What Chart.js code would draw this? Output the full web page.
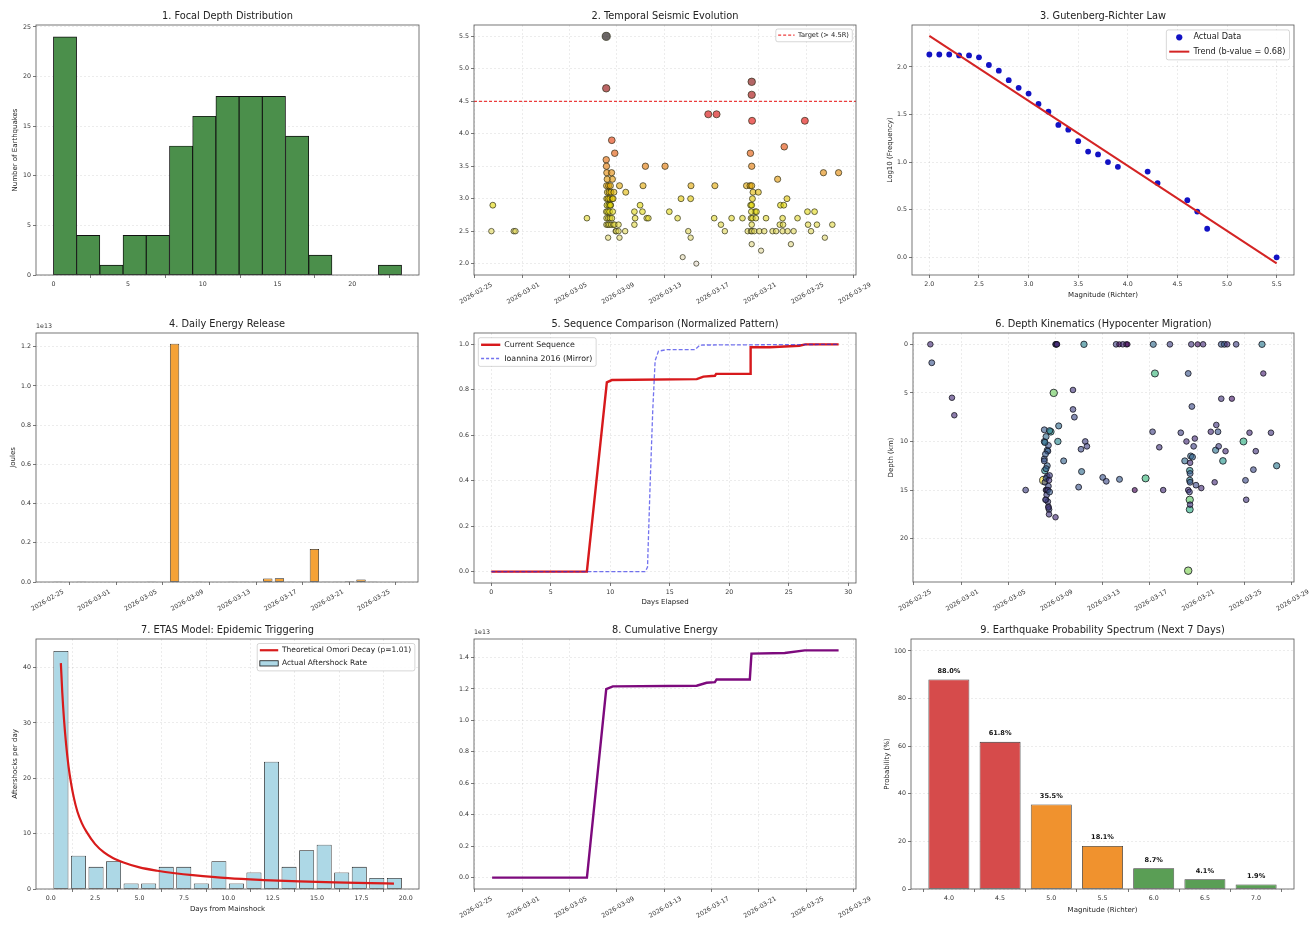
<!DOCTYPE html>
<html><head><meta charset="utf-8">
<script src="https://cdn.jsdelivr.net/npm/chart.js@4.4.1/dist/chart.umd.min.js"></script>
<style>
html,body{margin:0;padding:0;background:#fff;width:1312px;height:926px;overflow:hidden;position:relative}
canvas{position:absolute}
</style>
</head><body>
<script>
// ---------------- DATA ----------------
// Panel 1: focal depth histogram
const depthBinEdges = [0,1.553,3.107,4.66,6.213,7.767,9.32,10.873,12.427,13.98,15.533,17.087,18.64,20.193,21.747,23.3];
const depthCounts = [24,4,1,4,4,13,16,18,18,18,14,2,0,0,1];
const p1XTicks = [0,5,10,15,20];
const p1YTicks = [0,5,10,15,20,25];

// Date axis (days after 2026-02-25)
const dateTickDays = [0,4,8,12,16,20,24,28,32];
const dateTickLabels = ['2026-02-25','2026-03-01','2026-03-05','2026-03-09','2026-03-13','2026-03-17','2026-03-21','2026-03-25','2026-03-29'];

// Panel 2: [day, magnitude]
const p2Events = [
[1.40,2.5],[1.52,2.9],[3.29,2.5],[3.43,2.5],[9.47,2.7],
[11.10,5.5],[11.10,4.7],[11.57,3.9],[11.82,3.7],[11.10,3.6],[11.12,3.5],[11.15,3.4],[11.55,3.4],[11.62,3.3],[11.18,3.3],[11.13,3.2],[11.30,3.2],[11.45,3.2],[11.20,3.1],[11.35,3.1],[11.50,3.1],[11.75,3.1],[11.14,3.0],[11.25,3.0],[11.40,3.0],[11.60,3.0],[11.16,2.9],[11.32,2.9],[11.48,2.9],[11.11,2.8],[11.22,2.8],[11.38,2.8],[11.65,2.8],[11.13,2.7],[11.28,2.7],[11.42,2.7],[11.58,2.7],[11.12,2.6],[11.24,2.6],[11.36,2.6],[11.52,2.6],[11.70,2.6],[11.26,2.4],[11.68,3.0],[11.44,2.9],[11.80,2.6],[11.90,2.5],[11.95,2.5],
[12.14,2.6],[12.14,2.5],[12.22,3.2],[12.22,2.4],[12.70,2.5],[12.75,3.1],
[13.48,2.6],[13.54,2.7],[13.48,2.8],[13.96,2.9],
[14.16,2.8],[14.21,3.2],[14.41,3.5],[14.52,2.7],[14.66,2.7],
[16.07,3.5],[16.43,2.8],[17.13,2.7],[17.56,2.1],[17.42,3.0],[18.03,2.5],[18.23,2.4],[18.23,3.0],[18.26,3.2],[18.71,2.0],
[19.72,4.3],[20.42,4.3],[20.28,3.2],[20.22,2.7],[20.79,2.6],[21.12,2.5],[21.69,2.7],[22.61,2.7],[22.95,3.2],[23.05,2.5],
[23.39,4.8],[23.39,4.6],[23.42,4.2],[23.28,3.7],[23.39,3.5],[23.25,3.2],[23.39,3.2],[23.50,3.1],[23.45,3.0],[23.30,2.9],[23.39,2.9],[23.67,2.8],[23.36,2.8],[23.33,2.7],[23.45,2.7],[23.39,2.6],[23.33,2.5],[23.42,2.5],[23.61,2.5],[23.39,2.3],[23.95,3.1],[23.79,2.8],[23.74,2.7],
[24.03,2.5],[24.18,2.2],[24.45,2.5],[24.60,2.7],[25.15,2.5],[25.45,2.5],[25.58,3.3],[25.76,2.6],[25.82,2.9],[26.00,2.7],[26.04,2.6],[26.10,2.9],[26.14,3.8],[26.37,3.0],[26.00,2.5],[26.42,2.5],[26.70,2.3],[26.93,2.5],[27.26,2.7],[27.88,4.2],[28.10,2.8],[28.15,2.6],[28.40,2.5],[28.70,2.8],[28.90,2.6],[29.45,3.4],[29.57,2.4],[30.20,2.6],[30.73,3.4]
];
const targetMag = 4.5;
const p2YTicks = [2.0,2.5,3.0,3.5,4.0,4.5,5.0,5.5];

// Panel 3: Gutenberg-Richter
const grMag  = [2.0,2.1,2.2,2.3,2.4,2.5,2.6,2.7,2.8,2.9,3.0,3.1,3.2,3.3,3.4,3.5,3.6,3.7,3.8,3.9,4.2,4.3,4.6,4.7,4.8,5.5];
const grLogN = [2.13,2.13,2.13,2.12,2.12,2.10,2.02,1.96,1.86,1.78,1.72,1.61,1.53,1.39,1.34,1.22,1.11,1.08,1.00,0.95,0.90,0.78,0.60,0.48,0.30,0.00];
const trendMag  = [2.0,5.5];
const trendLogN = [2.325,-0.063];
const p3XTicks = [2.0,2.5,3.0,3.5,4.0,4.5,5.0,5.5];
const p3YTicks = [0.0,0.5,1.0,1.5,2.0];

// Panel 4: daily energy (x 1e13 J), days after 2026-02-25
const energyDays  = [1,2,3,4,5,6,7,8,9,10,11,12,13,14,15,16,17,18,19,20,21,22,23,24,25,26,27,28,29,30];
const dailyEnergy = [0.00002,0,0.00001,0,0,0,0,0,0.00002,0,1.215,0.0004,0.0002,0.0012,0,0.0005,0.0002,0.0003,0.018,0.019,0.0001,0.0003,0.168,0.0003,0.0005,0.0035,0.013,0.0005,0.001,0.0008];
const p4YTicks = [0.0,0.2,0.4,0.6,0.8,1.0,1.2];

// Panel 5: normalized sequences
const curDays = [0,8.03,9.71,10.13,17.27,17.83,18.8,18.9,21.75,21.8,23.4,25.9,26.4,29.2];
const curNorm = [0,0,0.833,0.843,0.847,0.858,0.862,0.87,0.87,0.987,0.987,0.994,1.0,1.0];
const ioaDays = [0,12.95,13.13,13.35,13.57,13.77,14.05,14.75,17.13,17.55,29.2];
const ioaNorm = [0,0,0.02,0.385,0.71,0.928,0.97,0.977,0.977,0.997,1.0];
const p5XTicks = [0,5,10,15,20,25,30];
const p5YTicks = [0.0,0.2,0.4,0.6,0.8,1.0];

// Panel 6: [day, depth km, magnitude]
const p6Events = [
[1.40,0.0,2.5],[1.52,1.9,2.9],[3.23,5.5,2.5],[3.43,7.3,2.5],[9.47,15.0,2.7],
[11.00,14.0,5.5],
[11.05,8.8,3.0],[11.05,10.0,3.1],[11.05,11.8,3.0],[11.05,12.0,2.9],[11.10,13.0,3.7],[11.10,14.2,2.8],[11.20,15.0,2.8],[11.20,16.0,2.6],[11.30,10.9,3.2],[11.35,11.0,3.0],[11.30,13.6,2.7],[11.25,15.0,2.6],[11.35,16.2,2.7],[11.40,16.7,2.6],[11.45,17.0,2.8],[11.45,17.5,2.6],[11.60,9.0,3.9],[11.30,12.5,3.1],[11.15,11.3,3.0],[11.20,9.5,3.2],[11.40,10.4,2.9],[11.20,13.8,2.9],[11.40,14.6,2.8],[11.25,15.5,2.7],[11.40,16.8,2.6],[11.20,12.8,3.1],[11.50,13.5,2.7],[11.35,15.0,2.6],[11.15,16.0,2.7],[11.50,8.9,3.4],[11.10,10.1,3.3],[11.45,14.0,2.6],[11.50,15.2,3.0],
[11.85,5.0,4.7],[12.00,17.8,2.5],[12.00,0,2.6],[12.05,0,2.8],[12.10,0,2.4],[12.13,0,2.5],
[12.27,8.4,3.2],[12.20,10.0,3.6],[12.69,12.0,3.1],
[13.48,4.7,2.6],[13.48,6.7,2.7],[13.60,7.5,2.8],[13.96,14.7,2.9],[14.16,10.8,2.8],[14.21,13.1,3.2],[14.41,0,3.5],[14.52,10.0,2.7],[14.66,10.5,2.7],
[16.00,13.7,2.9],[16.30,14.1,2.8],[17.13,0,2.7],[17.40,0,2.1],[17.42,13.9,3.0],[17.70,0,2.5],[18.00,0,2.4],[18.10,0,2.0],[18.71,15.0,2.0],
[19.63,13.8,4.3],[20.22,9.0,2.7],[20.28,0,3.2],[20.42,3.0,4.3],[20.79,10.6,2.6],[21.12,15.0,2.5],[21.69,0,2.7],[22.61,9.1,2.7],
[22.95,12.0,3.2],[23.09,10.0,2.5],[23.24,3.0,2.9],[23.24,15.0,2.5],[23.24,23.3,4.8],[23.37,16.0,4.6],[23.37,17.0,4.2],[23.37,13.0,3.7],[23.37,14.0,3.5],[23.45,11.5,3.2],[23.50,0,2.6],[23.55,6.4,2.8],[23.60,11.6,3.1],[23.70,10.5,2.7],[23.80,9.7,2.5],[23.90,14.5,2.8],[24.04,0,2.2],[24.35,14.8,2.5],[24.50,0,2.5],[23.40,13.3,3.0],[23.40,14.2,2.9],[23.35,15.2,2.7],[23.40,16.5,2.6],[23.40,12.2,2.5],
[25.15,9.0,2.5],[25.48,14.2,2.5],[25.56,10.9,3.3],[25.62,8.3,2.6],[25.76,9.0,2.9],[25.82,10.5,2.7],[26.04,5.6,2.6],[26.04,0,2.9],[26.18,12.0,3.8],[26.30,0,3.0],[26.40,11.0,2.5],[26.54,0,2.5],[26.94,5.6,2.3],[27.30,0,2.7],[27.92,10.0,4.2],[28.09,14.0,2.8],[28.15,16.0,2.6],[28.43,9.1,2.5],[28.76,12.9,2.8],[28.96,11.0,2.6],[29.49,0,3.4],[29.60,3.0,2.4],[30.25,9.1,2.6],[30.73,12.5,3.4]
];
const p6YTicks = [0,5,10,15,20];

// Panel 7: ETAS
const omoriBinCenters = [0.573,1.561,2.55,3.538,4.526,5.515,6.503,7.492,8.48,9.469,10.457,11.445,12.434,13.422,14.411,15.399,16.387,17.376,18.364,19.353];
const aftershockCounts = [43,6,4,5,1,1,4,4,1,5,1,3,23,4,7,8,3,4,2,2];
const omoriX = [0.57,0.65,0.75,0.87,1.0,1.15,1.3,1.5,1.75,2.0,2.5,3.0,3.5,4.1,5.0,6.0,7.0,8.0,10.0,12.0,14.0,16.0,18.0,19.33];
const omoriY = [40.8,35.5,30.5,26.0,22.2,19.0,16.5,14.0,11.9,10.4,8.1,6.6,5.6,4.8,3.9,3.3,2.85,2.5,1.95,1.62,1.38,1.2,1.07,0.98];
const p7XTicks = [0,2.5,5,7.5,10,12.5,15,17.5,20];
const p7YTicks = [0,10,20,30,40];

// Panel 8: cumulative energy (x 1e13 J)
const cumDays   = [1.46,9.47,11.1,11.66,18.74,19.58,20.28,20.42,23.23,23.37,26.18,27.87,30.73];
const cumEnergy = [0,0,1.199,1.216,1.22,1.239,1.243,1.26,1.26,1.424,1.428,1.445,1.445];
const p8YTicks = [0.0,0.2,0.4,0.6,0.8,1.0,1.2,1.4];

// Panel 9: probability spectrum
const probMagLabels = ['4.0','4.5','5.0','5.5','6.0','6.5','7.0'];
const probValues = [88.0,61.8,35.5,18.1,8.7,4.1,1.9];
const p9YTicks = [0,20,40,60,80,100];

// ---------------- STYLE HELPERS ----------------
const FONT = '"DejaVu Sans", "Liberation Sans", sans-serif';
const TITLE_FONT = 9.8, TICK_FONT = 6.3, LABEL_FONT = 7;
Chart.defaults.font.family = FONT;
Chart.defaults.color = '#333';

function hotR(m, alpha) {
  const t = Math.min(1, Math.max(0, (m - 2.0) / 3.5));
  const s = 1 - t;
  const r = Math.min(1, 0.0416 + s * 0.9584 / 0.365);
  const g = Math.min(1, Math.max(0, (s - 0.365) / 0.381));
  const b = Math.min(1, Math.max(0, (s - 0.746) / 0.254));
  return `rgba(${Math.round(r*225)},${Math.round(g*215)},${Math.round(b*200)},${alpha})`;
}
const VIR = [[68,1,84],[72,36,117],[59,82,139],[44,114,142],[33,145,140],[40,174,128],[94,201,98],[170,220,50],[253,231,37]];
function viridis(m, alpha) {
  const t = Math.min(1, Math.max(0, (m - 2.0) / 3.5)) * 8;
  const i = Math.min(7, Math.floor(t)), f = t - i;
  const c = VIR[i].map((v, k) => Math.round(v + (VIR[i+1][k] - v) * f));
  return `rgba(${c[0]},${c[1]},${c[2]},${alpha})`;
}
const rad = m => 1.7 + 0.43 * m;

function axisCfg(o) {
  return {
    type: 'linear', min: o.min, max: o.max, reverse: !!o.reverse, offset: false, bounds: 'data',
    afterBuildTicks: s => { s.ticks = o.ticks.map(v => ({value: v})); },
    afterFit: s => {
      if (o.isX) s.height = o.size; else s.width = o.size;
      s.paddingLeft = 0; s.paddingRight = 0; s.paddingTop = 0; s.paddingBottom = 0;
    },
    ticks: {
      autoSkip: false, minRotation: o.rot || 0, maxRotation: o.rot || 0,
      padding: o.isX ? 3 : 2, labelOffset: o.labelOffset || 0,
      color: '#333', font: {size: TICK_FONT},
      callback: (v, i) => o.labels ? o.labels[i] : Number(v).toFixed(o.dec || 0)
    },
    grid: { display: true, drawOnChartArea: !!o.grid, color: 'rgba(0,0,0,0.13)', lineWidth: 0.6,
            drawTicks: true, tickLength: 3, tickColor: '#555', tickWidth: 0.8 },
    border: { display: false, dash: [2, 2] },
    title: o.title ? {display: true, text: o.title, color: '#222', font: {size: LABEL_FONT}, padding: 0} : {display: false}
  };
}
function dateAxis(min, max, grid) {
  const idx = dateTickDays.map((d, i) => i).filter(i => dateTickDays[i] >= min && dateTickDays[i] <= max);
  return {min, max, ticks: idx.map(i => dateTickDays[i]), labels: idx.map(i => dateTickLabels[i]), rot: 30, labelOffset: 17, grid};
}

function drawLegend(ctx, a, lg) {
  const f = lg.size;
  ctx.font = `${f}px ${FONT}`;
  const tw = Math.max(...lg.items.map(it => ctx.measureText(it.text).width));
  const w = 3.3 * f + tw + 0.5 * f;
  const h = lg.items.length * 1.75 * f + 0.15 * f;
  const x = lg.corner === 'tl' ? a.left + 0.55 * f : a.right - 0.55 * f - w;
  const y = a.top + 0.6 * f;
  ctx.beginPath();
  if (ctx.roundRect) ctx.roundRect(x, y, w, h, 2); else ctx.rect(x, y, w, h);
  ctx.fillStyle = 'rgba(255,255,255,0.85)'; ctx.fill();
  ctx.strokeStyle = 'rgba(0,0,0,0.2)'; ctx.lineWidth = 0.8; ctx.stroke();
  lg.items.forEach((it, i) => {
    const cy = y + 0.9 * f + i * 1.75 * f;
    const hx0 = x + 0.35 * f, hx1 = x + 2.8 * f;
    ctx.save();
    if (it.sym === 'line' || it.sym === 'dash') {
      ctx.strokeStyle = it.color; ctx.lineWidth = it.width || 2;
      ctx.setLineDash(it.sym === 'dash' ? [3, 2] : []);
      ctx.beginPath(); ctx.moveTo(hx0, cy); ctx.lineTo(hx1, cy); ctx.stroke();
    } else if (it.sym === 'dot') {
      ctx.fillStyle = it.color; ctx.beginPath(); ctx.arc((hx0 + hx1) / 2, cy, 0.38 * f, 0, Math.PI * 2); ctx.fill();
    } else if (it.sym === 'box') {
      ctx.fillStyle = it.color; ctx.strokeStyle = '#111'; ctx.lineWidth = 0.8;
      ctx.fillRect(hx0, cy - 0.35 * f, hx1 - hx0, 0.7 * f);
      ctx.strokeRect(hx0, cy - 0.35 * f, hx1 - hx0, 0.7 * f);
    }
    ctx.restore();
    ctx.fillStyle = '#222'; ctx.textAlign = 'left'; ctx.textBaseline = 'middle';
    ctx.fillText(it.text, x + 3.3 * f, cy);
  });
}

const decoPlugin = {
  id: 'deco',
  afterDatasetsDraw(chart, args, o) {
    const ctx = chart.ctx, a = chart.chartArea;
    ctx.save();
    if (o.hline) {
      const y = chart.scales.y.getPixelForValue(o.hline.value);
      ctx.strokeStyle = o.hline.color; ctx.lineWidth = o.hline.width; ctx.setLineDash(o.hline.dash);
      ctx.beginPath(); ctx.moveTo(a.left, y); ctx.lineTo(a.right, y); ctx.stroke(); ctx.setLineDash([]);
    }
    if (o.barLabels) {
      const meta = chart.getDatasetMeta(0);
      ctx.font = `bold ${o.barLabels.size}px ${FONT}`; ctx.fillStyle = '#111';
      ctx.textAlign = 'center'; ctx.textBaseline = 'bottom';
      meta.data.forEach((el, i) => ctx.fillText(o.barLabels.texts[i], el.x, el.y - o.barLabels.gap));
    }
    ctx.restore();
  },
  afterDraw(chart, args, o) {
    const ctx = chart.ctx, a = chart.chartArea;
    ctx.save();
    ctx.strokeStyle = '#555'; ctx.lineWidth = 0.8; ctx.setLineDash([]);
    ctx.strokeRect(a.left, a.top, a.right - a.left, a.bottom - a.top);
    if (o.title) {
      ctx.font = `${TITLE_FONT}px ${FONT}`; ctx.fillStyle = '#222';
      ctx.textAlign = 'center'; ctx.textBaseline = 'middle';
      ctx.fillText(o.title, (a.left + a.right) / 2, a.top - 9);
    }
    if (o.offsetText) {
      ctx.font = `${TICK_FONT}px ${FONT}`; ctx.fillStyle = '#333';
      ctx.textAlign = 'left'; ctx.textBaseline = 'middle';
      ctx.fillText(o.offsetText, a.left, a.top - 6.5);
    }
    if (o.legend) drawLegend(ctx, a, o.legend);
    ctx.restore();
  }
};
Chart.register(decoPlugin);

const RIGHT_PAD = 30;
function makeChart(spec) {
  const {rect, A, H} = spec;
  const c = document.createElement('canvas');
  const left = rect.L - A, top = rect.T - 30;
  const w = Math.round(rect.R - rect.L + A + RIGHT_PAD), h = Math.round(rect.B - rect.T + 30 + H);
  c.width = w; c.height = h;
  c.style.left = left + 'px'; c.style.top = top + 'px';
  c.style.width = w + 'px'; c.style.height = h + 'px';
  document.body.appendChild(c);
  return new Chart(c, {
    type: spec.type,
    data: {datasets: spec.datasets},
    options: {
      responsive: false, animation: false, devicePixelRatio: 1,
      events: [],
      layout: {padding: {top: 30, left: 0, right: RIGHT_PAD, bottom: 0}},
      plugins: {legend: {display: false}, tooltip: {enabled: false}, title: {display: false}, deco: spec.deco},
      scales: {
        x: axisCfg(Object.assign({isX: true, size: H}, spec.x)),
        y: axisCfg(Object.assign({isX: false, size: A}, spec.y))
      }
    }
  });
}

// ---------------- PANELS ----------------
// 1
const binCenters = depthCounts.map((_, i) => (depthBinEdges[i] + depthBinEdges[i + 1]) / 2);
makeChart({
  rect: {L: 36, T: 25, R: 419, B: 275}, A: 25, H: 20, type: 'bar',
  datasets: [{data: depthCounts.map((v, i) => ({x: binCenters[i], y: v})),
    backgroundColor: '#4b8f4b', borderColor: '#111', borderWidth: 0.9, borderSkipped: false,
    barPercentage: 1, categoryPercentage: 1}],
  x: {min: -1.165, max: 24.465, ticks: p1XTicks, dec: 0},
  y: {min: 0, max: 25.2, ticks: p1YTicks, dec: 0, grid: true, title: 'Number of Earthquakes'},
  deco: {title: '1. Focal Depth Distribution'}
});

// 2
makeChart({
  rect: {L: 474, T: 25, R: 856, B: 275}, A: 40, H: 45, type: 'scatter',
  datasets: [{data: p2Events.map(e => ({x: e[0], y: e[1]})),
    pointRadius: p2Events.map(e => rad(e[1])),
    pointBackgroundColor: p2Events.map(e => hotR(e[1], 0.6)),
    pointBorderColor: 'rgba(40,40,20,0.75)', pointBorderWidth: 0.9}],
  x: dateAxis(-0.07, 32.2, true),
  y: {min: 1.825, max: 5.675, ticks: p2YTicks, dec: 1, grid: true},
  deco: {title: '2. Temporal Seismic Evolution',
    hline: {value: targetMag, color: 'rgba(235,40,40,0.9)', width: 1.2, dash: [3, 2]},
    legend: {corner: 'tr', size: 6.7, items: [{sym: 'dash', color: 'rgba(235,40,40,0.9)', width: 1.2, text: 'Target (> 4.5R)'}]}}
});

// 3
makeChart({
  rect: {L: 912, T: 25, R: 1294, B: 275}, A: 26, H: 24, type: 'scatter',
  datasets: [
    {data: trendMag.map((m, i) => ({x: m, y: trendLogN[i]})), showLine: true, borderColor: '#d42424', borderWidth: 2, pointRadius: 0, order: 0},
    {data: grMag.map((m, i) => ({x: m, y: grLogN[i]})), pointRadius: 2.9, pointBackgroundColor: '#1212c4', pointBorderColor: '#1212c4', pointBorderWidth: 0, order: 1}
  ],
  x: {min: 1.825, max: 5.675, ticks: p3XTicks, dec: 1, grid: true, title: 'Magnitude (Richter)'},
  y: {min: -0.186, max: 2.44, ticks: p3YTicks, dec: 1, grid: true, title: 'Log10 (Frequency)'},
  deco: {title: '3. Gutenberg-Richter Law',
    legend: {corner: 'tr', size: 8.2, items: [
      {sym: 'dot', color: '#1212c4', text: 'Actual Data'},
      {sym: 'line', color: '#d42424', width: 2, text: 'Trend (b-value = 0.68)'}]}}
});

// 4
makeChart({
  rect: {L: 36, T: 333, R: 418, B: 582}, A: 27, H: 45, type: 'bar',
  datasets: [{data: energyDays.map((d, i) => ({x: d, y: dailyEnergy[i]})),
    backgroundColor: '#f5a236', borderColor: '#1a1a1a', borderWidth: 0.8, borderSkipped: false,
    barPercentage: 0.8, categoryPercentage: 1}],
  x: dateAxis(-0.89, 31.89, false),
  y: {min: 0, max: 1.27, ticks: p4YTicks, dec: 1, grid: true, title: 'Joules'},
  deco: {title: '4. Daily Energy Release', offsetText: '1e13'}
});

// 5
makeChart({
  rect: {L: 474, T: 333, R: 856, B: 583}, A: 40, H: 23, type: 'scatter',
  datasets: [
    {data: curDays.map((d, i) => ({x: d, y: curNorm[i]})), showLine: true, borderColor: '#d7191c', borderWidth: 2.4, pointRadius: 0, order: 1},
    {data: ioaDays.map((d, i) => ({x: d, y: ioaNorm[i]})), showLine: true, borderColor: 'rgba(40,40,230,0.65)', borderWidth: 1.3, borderDash: [4, 2], pointRadius: 0, order: 0}
  ],
  x: {min: -1.46, max: 30.66, ticks: p5XTicks, dec: 0, grid: true, title: 'Days Elapsed'},
  y: {min: -0.05, max: 1.05, ticks: p5YTicks, dec: 1, grid: true},
  deco: {title: '5. Sequence Comparison (Normalized Pattern)',
    legend: {corner: 'tl', size: 7.85, items: [
      {sym: 'line', color: '#d7191c', width: 2.4, text: 'Current Sequence'},
      {sym: 'dash', color: 'rgba(40,40,230,0.65)', width: 1.3, text: 'Ioannina 2016 (Mirror)'}]}}
});

// 6
makeChart({
  rect: {L: 913, T: 333, R: 1294, B: 582}, A: 26, H: 45, type: 'scatter',
  datasets: [{data: p6Events.map(e => ({x: e[0], y: e[1]})),
    pointRadius: p6Events.map(e => rad(e[2])),
    pointBackgroundColor: p6Events.map(e => viridis(e[2], 0.62)),
    pointBorderColor: 'rgba(20,20,30,0.8)', pointBorderWidth: 1}],
  x: dateAxis(-0.07, 32.2, true),
  y: {min: -1.165, max: 24.465, reverse: true, ticks: p6YTicks, dec: 0, grid: true, title: 'Depth (km)'},
  deco: {title: '6. Depth Kinematics (Hypocenter Migration)'}
});

// 7
makeChart({
  rect: {L: 36, T: 639, R: 419, B: 889}, A: 25, H: 24, type: 'bar',
  datasets: [
    {type: 'line', data: omoriX.map((x, i) => ({x, y: omoriY[i]})), borderColor: '#d81b1b', borderWidth: 2.2,
      pointRadius: 0, cubicInterpolationMode: 'monotone', order: 0},
    {data: omoriBinCenters.map((x, i) => ({x, y: aftershockCounts[i]})), backgroundColor: '#add8e6',
      borderColor: '#1a1a1a', borderWidth: 0.8, borderSkipped: false, barPercentage: 0.855, categoryPercentage: 1, order: 1}
  ],
  x: {min: -0.83, max: 20.74, ticks: p7XTicks, dec: 1, grid: true, title: 'Days from Mainshock'},
  y: {min: 0, max: 45.15, ticks: p7YTicks, dec: 0, grid: true, title: 'Aftershocks per day'},
  deco: {title: '7. ETAS Model: Epidemic Triggering',
    legend: {corner: 'tr', size: 7.5, items: [
      {sym: 'line', color: '#d81b1b', width: 2.2, text: 'Theoretical Omori Decay (p=1.01)'},
      {sym: 'box', color: '#add8e6', text: 'Actual Aftershock Rate'}]}}
});

// 8
makeChart({
  rect: {L: 474, T: 639, R: 856, B: 889}, A: 40, H: 45, type: 'scatter',
  datasets: [{data: cumDays.map((d, i) => ({x: d, y: cumEnergy[i]})), showLine: true,
    borderColor: '#7d0a7d', borderWidth: 2.4, pointRadius: 0}],
  x: dateAxis(-0.07, 32.2, true),
  y: {min: -0.072, max: 1.517, ticks: p8YTicks, dec: 1, grid: true},
  deco: {title: '8. Cumulative Energy', offsetText: '1e13'}
});

// 9
const probColors = probValues.map(v => v > 50 ? '#d64b4b' : (v > 15 ? '#f0922e' : '#5a9e55'));
makeChart({
  rect: {L: 911, T: 639, R: 1294, B: 889}, A: 28, H: 25, type: 'bar',
  datasets: [{data: probValues.map((v, i) => ({x: i, y: v})), backgroundColor: probColors,
    borderColor: '#333', borderWidth: 0.8, borderSkipped: false, barPercentage: 0.8, categoryPercentage: 1}],
  x: {min: -0.74, max: 6.74, ticks: probMagLabels.map((_, i) => i), labels: probMagLabels, grid: false, title: 'Magnitude (Richter)'},
  y: {min: 0, max: 105, ticks: p9YTicks, dec: 0, grid: true, title: 'Probability (%)'},
  deco: {title: '9. Earthquake Probability Spectrum (Next 7 Days)',
    barLabels: {size: 6.6, gap: 5, texts: probValues.map(v => v.toFixed(1) + '%')}}
});
</script>
</body></html>
